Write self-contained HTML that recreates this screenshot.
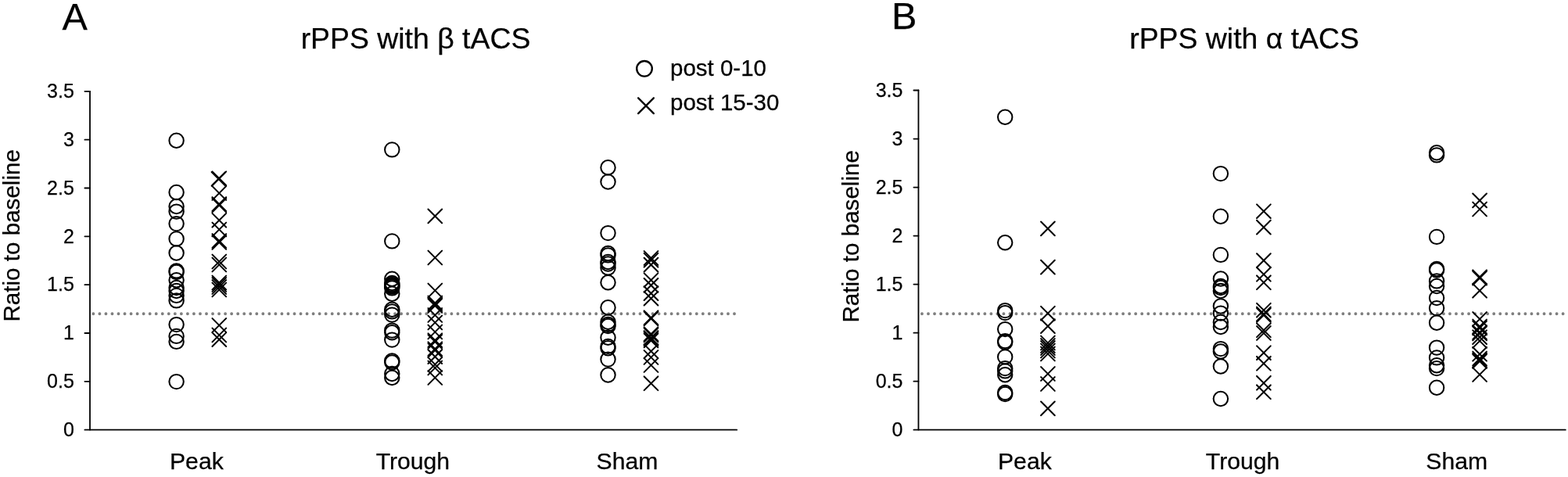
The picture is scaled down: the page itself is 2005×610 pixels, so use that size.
<!DOCTYPE html>
<html><head><meta charset="utf-8"><title>rPPS with tACS</title>
<style>
html,body{margin:0;padding:0;background:#fff;}
body{width:2005px;height:610px;overflow:hidden;}
svg{display:block;}
text{font-family:"Liberation Sans",Arial,sans-serif;fill:#000;stroke:#000;stroke-width:0.25px;}
.ax{fill:none;stroke:#000;stroke-width:1.8;stroke-linecap:round;stroke-linejoin:round;}
.dot{fill:none;stroke:#7f7f7f;stroke-width:3.9;stroke-linecap:round;stroke-dasharray:0 8.036;}
.tk{font-size:25px;text-anchor:end;}
.cat{font-size:30.2px;text-anchor:middle;}
.yl{font-size:29.6px;text-anchor:middle;}
.ti{font-size:37.4px;text-anchor:middle;}
.let{font-size:48.5px;}
.lg{font-size:29.5px;}
.mk{fill:none;stroke:#000;stroke-width:2.05;stroke-linecap:round;}
.lgm{stroke-width:2.35;}
</style></head>
<body>
<svg width="2005" height="610" viewBox="0 0 2005 610">
<rect width="2005" height="610" fill="#fff"/>
<g>
<path d="M115 116.8V549.7H942.2" class="ax"/>
<path d="M108.4 549.7H115" class="ax"/>
<text x="94.8" y="558" class="tk">0</text>
<path d="M108.4 487.86H115" class="ax"/>
<text x="94.8" y="496.16" class="tk">0.5</text>
<path d="M108.4 426.01H115" class="ax"/>
<text x="94.8" y="434.31" class="tk">1</text>
<path d="M108.4 364.17H115" class="ax"/>
<text x="94.8" y="372.47" class="tk">1.5</text>
<path d="M108.4 302.33H115" class="ax"/>
<text x="94.8" y="310.63" class="tk">2</text>
<path d="M108.4 240.49H115" class="ax"/>
<text x="94.8" y="248.79" class="tk">2.5</text>
<path d="M108.4 178.64H115" class="ax"/>
<text x="94.8" y="186.94" class="tk">3</text>
<path d="M108.4 116.8H115" class="ax"/>
<text x="94.8" y="125.1" class="tk">3.5</text>
<path d="M119.35 401.2H940" class="dot"/>
<text x="251.4" y="599.8" class="cat">Peak</text>
<text x="527.9" y="599.8" class="cat">Trough</text>
<text x="801.95" y="599.8" class="cat">Sham</text>
<text transform="translate(24.9 301.3) rotate(-90)" class="yl">Ratio to baseline</text>
<text x="531.5" y="62.3" class="ti">rPPS with β tACS</text>
<text x="79.6" y="38.3" class="let">A</text>
<circle class="mk" cx="225.6" cy="179.7" r="9.2"/>
<circle class="mk" cx="225.6" cy="246" r="9.2"/>
<circle class="mk" cx="225.6" cy="264" r="9.2"/>
<circle class="mk" cx="225.6" cy="270.6" r="9.2"/>
<circle class="mk" cx="225.6" cy="286.1" r="9.2"/>
<circle class="mk" cx="225.6" cy="305.4" r="9.2"/>
<circle class="mk" cx="225.6" cy="323.5" r="9.2"/>
<circle class="mk" cx="225.6" cy="346.4" r="9.2"/>
<circle class="mk" cx="225.6" cy="348" r="9.2"/>
<circle class="mk" cx="225.6" cy="358.2" r="9.2"/>
<circle class="mk" cx="225.6" cy="368" r="9.2"/>
<circle class="mk" cx="225.6" cy="372" r="9.2"/>
<circle class="mk" cx="225.6" cy="377.9" r="9.2"/>
<circle class="mk" cx="225.6" cy="384.4" r="9.2"/>
<circle class="mk" cx="225.6" cy="415.1" r="9.2"/>
<circle class="mk" cx="225.6" cy="429.9" r="9.2"/>
<circle class="mk" cx="225.6" cy="436.9" r="9.2"/>
<circle class="mk" cx="225.6" cy="488.1" r="9.2"/>
<path class="mk" d="M271.45 219.35L289.15 237.05M289.15 219.35L271.45 237.05"/>
<path class="mk" d="M270.65 220.05L288.35 237.75M288.35 220.05L270.65 237.75"/>
<path class="mk" d="M271.45 238.15L289.15 255.85M289.15 238.15L271.45 255.85"/>
<path class="mk" d="M271.45 252.15L289.15 269.85M289.15 252.15L271.45 269.85"/>
<path class="mk" d="M271.45 253.65L289.15 271.35M289.15 253.65L271.45 271.35"/>
<path class="mk" d="M271.45 272.85L289.15 290.55M289.15 272.85L271.45 290.55"/>
<path class="mk" d="M271.45 284.65L289.15 302.35M289.15 284.65L271.45 302.35"/>
<path class="mk" d="M271.45 299.15L289.15 316.85M289.15 299.15L271.45 316.85"/>
<path class="mk" d="M271.45 301.15L289.15 318.85M289.15 301.15L271.45 318.85"/>
<path class="mk" d="M271.45 325.65L289.15 343.35M289.15 325.65L271.45 343.35"/>
<path class="mk" d="M271.45 329.65L289.15 347.35M289.15 329.65L271.45 347.35"/>
<path class="mk" d="M271.45 352.65L289.15 370.35M289.15 352.65L271.45 370.35"/>
<path class="mk" d="M271.45 355.15L289.15 372.85M289.15 355.15L271.45 372.85"/>
<path class="mk" d="M271.45 358.15L289.15 375.85M289.15 358.15L271.45 375.85"/>
<path class="mk" d="M271.45 361.65L289.15 379.35M289.15 361.65L271.45 379.35"/>
<path class="mk" d="M271.45 407.15L289.15 424.85M289.15 407.15L271.45 424.85"/>
<path class="mk" d="M271.45 419.65L289.15 437.35M289.15 419.65L271.45 437.35"/>
<path class="mk" d="M271.45 425.35L289.15 443.05M289.15 425.35L271.45 443.05"/>
<circle class="mk" cx="501.3" cy="191.4" r="9.2"/>
<circle class="mk" cx="501.3" cy="308.4" r="9.2"/>
<circle class="mk" cx="501.3" cy="356.7" r="9.2"/>
<circle class="mk" cx="501.3" cy="362" r="9.2"/>
<circle class="mk" cx="501.3" cy="363.7" r="9.2"/>
<circle class="mk" cx="501.3" cy="365.3" r="9.2"/>
<circle class="mk" cx="501.3" cy="366.6" r="9.2"/>
<circle class="mk" cx="501.3" cy="368.4" r="9.2"/>
<circle class="mk" cx="501.3" cy="375.7" r="9.2"/>
<circle class="mk" cx="501.3" cy="395.7" r="9.2"/>
<circle class="mk" cx="501.3" cy="398.4" r="9.2"/>
<circle class="mk" cx="501.3" cy="402.6" r="9.2"/>
<circle class="mk" cx="501.3" cy="422.6" r="9.2"/>
<circle class="mk" cx="501.3" cy="425.3" r="9.2"/>
<circle class="mk" cx="501.3" cy="434.6" r="9.2"/>
<circle class="mk" cx="501.3" cy="461.5" r="9.2"/>
<circle class="mk" cx="501.3" cy="463.5" r="9.2"/>
<circle class="mk" cx="501.3" cy="478" r="9.2"/>
<circle class="mk" cx="501.3" cy="483" r="9.2"/>
<path class="mk" d="M547.45 267.55L565.15 285.25M565.15 267.55L547.45 285.25"/>
<path class="mk" d="M547.45 320.65L565.15 338.35M565.15 320.65L547.45 338.35"/>
<path class="mk" d="M547.45 362.65L565.15 380.35M565.15 362.65L547.45 380.35"/>
<path class="mk" d="M547.45 378.65L565.15 396.35M565.15 378.65L547.45 396.35"/>
<path class="mk" d="M547.45 380.65L565.15 398.35M565.15 380.65L547.45 398.35"/>
<path class="mk" d="M547.45 382.15L565.15 399.85M565.15 382.15L547.45 399.85"/>
<path class="mk" d="M547.45 394.15L565.15 411.85M565.15 394.15L547.45 411.85"/>
<path class="mk" d="M547.45 403.65L565.15 421.35M565.15 403.65L547.45 421.35"/>
<path class="mk" d="M547.45 415.65L565.15 433.35M565.15 415.65L547.45 433.35"/>
<path class="mk" d="M547.45 426.35L565.15 444.05M565.15 426.35L547.45 444.05"/>
<path class="mk" d="M547.45 428.15L565.15 445.85M565.15 428.15L547.45 445.85"/>
<path class="mk" d="M547.45 437.35L565.15 455.05M565.15 437.35L547.45 455.05"/>
<path class="mk" d="M547.45 439.15L565.15 456.85M565.15 439.15L547.45 456.85"/>
<path class="mk" d="M547.45 447.25L565.15 464.95M565.15 447.25L547.45 464.95"/>
<path class="mk" d="M547.45 457.15L565.15 474.85M565.15 457.15L547.45 474.85"/>
<path class="mk" d="M547.45 461.65L565.15 479.35M565.15 461.65L547.45 479.35"/>
<path class="mk" d="M547.45 474.15L565.15 491.85M565.15 474.15L547.45 491.85"/>
<circle class="mk" cx="777.5" cy="214.2" r="9.2"/>
<circle class="mk" cx="777.5" cy="232.5" r="9.2"/>
<circle class="mk" cx="777.5" cy="298.1" r="9.2"/>
<circle class="mk" cx="777.5" cy="324" r="9.2"/>
<circle class="mk" cx="777.5" cy="326.4" r="9.2"/>
<circle class="mk" cx="777.5" cy="335" r="9.2"/>
<circle class="mk" cx="777.5" cy="337.5" r="9.2"/>
<circle class="mk" cx="777.5" cy="342.4" r="9.2"/>
<circle class="mk" cx="777.5" cy="361.2" r="9.2"/>
<circle class="mk" cx="777.5" cy="393.2" r="9.2"/>
<circle class="mk" cx="777.5" cy="411.8" r="9.2"/>
<circle class="mk" cx="777.5" cy="415" r="9.2"/>
<circle class="mk" cx="777.5" cy="417" r="9.2"/>
<circle class="mk" cx="777.5" cy="431.7" r="9.2"/>
<circle class="mk" cx="777.5" cy="442.9" r="9.2"/>
<circle class="mk" cx="777.5" cy="445.2" r="9.2"/>
<circle class="mk" cx="777.5" cy="459.6" r="9.2"/>
<circle class="mk" cx="777.5" cy="479.5" r="9.2"/>
<path class="mk" d="M823.65 321.15L841.35 338.85M841.35 321.15L823.65 338.85"/>
<path class="mk" d="M823.65 323.85L841.35 341.55M841.35 323.85L823.65 341.55"/>
<path class="mk" d="M823.65 329.75L841.35 347.45M841.35 329.75L823.65 347.45"/>
<path class="mk" d="M823.65 349.35L841.35 367.05M841.35 349.35L823.65 367.05"/>
<path class="mk" d="M823.65 356.05L841.35 373.75M841.35 356.05L823.65 373.75"/>
<path class="mk" d="M823.65 366.25L841.35 383.95M841.35 366.25L823.65 383.95"/>
<path class="mk" d="M823.65 372.85L841.35 390.55M841.35 372.85L823.65 390.55"/>
<path class="mk" d="M823.65 397.45L841.35 415.15M841.35 397.45L823.65 415.15"/>
<path class="mk" d="M823.65 398.65L841.35 416.35M841.35 398.65L823.65 416.35"/>
<path class="mk" d="M823.65 418.35L841.35 436.05M841.35 418.35L823.65 436.05"/>
<path class="mk" d="M823.65 419.65L841.35 437.35M841.35 419.65L823.65 437.35"/>
<path class="mk" d="M823.65 423.15L841.35 440.85M841.35 423.15L823.65 440.85"/>
<path class="mk" d="M823.65 424.55L841.35 442.25M841.35 424.55L823.65 442.25"/>
<path class="mk" d="M823.65 426.65L841.35 444.35M841.35 426.65L823.65 444.35"/>
<path class="mk" d="M823.65 440.35L841.35 458.05M841.35 440.35L823.65 458.05"/>
<path class="mk" d="M823.65 448.15L841.35 465.85M841.35 448.15L823.65 465.85"/>
<path class="mk" d="M823.65 458.15L841.35 475.85M841.35 458.15L823.65 475.85"/>
<path class="mk" d="M823.65 481.45L841.35 499.15M841.35 481.45L823.65 499.15"/>
<path d="M1174.45 115.5V549.7H2001.8" class="ax"/>
<path d="M1168.4 549.7H1174.45" class="ax"/>
<text x="1154.4" y="558" class="tk">0</text>
<path d="M1168.4 487.67H1174.45" class="ax"/>
<text x="1154.4" y="495.97" class="tk">0.5</text>
<path d="M1168.4 425.64H1174.45" class="ax"/>
<text x="1154.4" y="433.94" class="tk">1</text>
<path d="M1168.4 363.61H1174.45" class="ax"/>
<text x="1154.4" y="371.91" class="tk">1.5</text>
<path d="M1168.4 301.59H1174.45" class="ax"/>
<text x="1154.4" y="309.89" class="tk">2</text>
<path d="M1168.4 239.56H1174.45" class="ax"/>
<text x="1154.4" y="247.86" class="tk">2.5</text>
<path d="M1168.4 177.53H1174.45" class="ax"/>
<text x="1154.4" y="185.83" class="tk">3</text>
<path d="M1168.4 115.5H1174.45" class="ax"/>
<text x="1154.4" y="123.8" class="tk">3.5</text>
<path d="M1178.95 401.2H1999.6" class="dot"/>
<text x="1310.4" y="600.4" class="cat">Peak</text>
<text x="1589.1" y="600.4" class="cat">Trough</text>
<text x="1862.8" y="600.4" class="cat">Sham</text>
<text transform="translate(1098.3 302.3) rotate(-90)" class="yl">Ratio to baseline</text>
<text x="1591.1" y="62.3" class="ti">rPPS with α tACS</text>
<text x="1139.9" y="37.3" class="let">B</text>
<circle class="mk" cx="1285.2" cy="149.7" r="9.2"/>
<circle class="mk" cx="1285.2" cy="310.3" r="9.2"/>
<circle class="mk" cx="1285.2" cy="397.1" r="9.2"/>
<circle class="mk" cx="1285.2" cy="400.1" r="9.2"/>
<circle class="mk" cx="1285.2" cy="421.1" r="9.2"/>
<circle class="mk" cx="1285.2" cy="436.1" r="9.2"/>
<circle class="mk" cx="1285.2" cy="437.7" r="9.2"/>
<circle class="mk" cx="1285.2" cy="456.4" r="9.2"/>
<circle class="mk" cx="1285.2" cy="471.1" r="9.2"/>
<circle class="mk" cx="1285.2" cy="474.4" r="9.2"/>
<circle class="mk" cx="1285.2" cy="479.3" r="9.2"/>
<circle class="mk" cx="1285.2" cy="502" r="9.2"/>
<circle class="mk" cx="1285.2" cy="504" r="9.2"/>
<path class="mk" d="M1331.05 283.55L1348.75 301.25M1348.75 283.55L1331.05 301.25"/>
<path class="mk" d="M1331.05 332.75L1348.75 350.45M1348.75 332.75L1331.05 350.45"/>
<path class="mk" d="M1331.05 391.85L1348.75 409.55M1348.75 391.85L1331.05 409.55"/>
<path class="mk" d="M1331.05 408.25L1348.75 425.95M1348.75 408.25L1331.05 425.95"/>
<path class="mk" d="M1331.05 429.65L1348.75 447.35M1348.75 429.65L1331.05 447.35"/>
<path class="mk" d="M1331.05 433.15L1348.75 450.85M1348.75 433.15L1331.05 450.85"/>
<path class="mk" d="M1331.05 436.15L1348.75 453.85M1348.75 436.15L1331.05 453.85"/>
<path class="mk" d="M1331.05 439.65L1348.75 457.35M1348.75 439.65L1331.05 457.35"/>
<path class="mk" d="M1331.05 443.65L1348.75 461.35M1348.75 443.65L1331.05 461.35"/>
<path class="mk" d="M1331.05 469.15L1348.75 486.85M1348.75 469.15L1331.05 486.85"/>
<path class="mk" d="M1331.05 482.15L1348.75 499.85M1348.75 482.15L1331.05 499.85"/>
<path class="mk" d="M1331.05 513.55L1348.75 531.25M1348.75 513.55L1331.05 531.25"/>
<circle class="mk" cx="1560.9" cy="222.1" r="9.2"/>
<circle class="mk" cx="1560.9" cy="276.7" r="9.2"/>
<circle class="mk" cx="1560.9" cy="325.9" r="9.2"/>
<circle class="mk" cx="1560.9" cy="356.5" r="9.2"/>
<circle class="mk" cx="1560.9" cy="366" r="9.2"/>
<circle class="mk" cx="1560.9" cy="368" r="9.2"/>
<circle class="mk" cx="1560.9" cy="372" r="9.2"/>
<circle class="mk" cx="1560.9" cy="391.5" r="9.2"/>
<circle class="mk" cx="1560.9" cy="400.6" r="9.2"/>
<circle class="mk" cx="1560.9" cy="412" r="9.2"/>
<circle class="mk" cx="1560.9" cy="418" r="9.2"/>
<circle class="mk" cx="1560.9" cy="446.1" r="9.2"/>
<circle class="mk" cx="1560.9" cy="449.5" r="9.2"/>
<circle class="mk" cx="1560.9" cy="468.5" r="9.2"/>
<circle class="mk" cx="1560.9" cy="510" r="9.2"/>
<path class="mk" d="M1607.05 261.35L1624.75 279.05M1624.75 261.35L1607.05 279.05"/>
<path class="mk" d="M1607.05 281.75L1624.75 299.45M1624.75 281.75L1607.05 299.45"/>
<path class="mk" d="M1607.05 324.25L1624.75 341.95M1624.75 324.25L1607.05 341.95"/>
<path class="mk" d="M1607.05 341.95L1624.75 359.65M1624.75 341.95L1607.05 359.65"/>
<path class="mk" d="M1607.05 352.45L1624.75 370.15M1624.75 352.45L1607.05 370.15"/>
<path class="mk" d="M1607.05 387.85L1624.75 405.55M1624.75 387.85L1607.05 405.55"/>
<path class="mk" d="M1607.05 392.65L1624.75 410.35M1624.75 392.65L1607.05 410.35"/>
<path class="mk" d="M1607.05 394.15L1624.75 411.85M1624.75 394.15L1607.05 411.85"/>
<path class="mk" d="M1607.05 413.45L1624.75 431.15M1624.75 413.45L1607.05 431.15"/>
<path class="mk" d="M1607.05 417.15L1624.75 434.85M1624.75 417.15L1607.05 434.85"/>
<path class="mk" d="M1607.05 442.35L1624.75 460.05M1624.75 442.35L1607.05 460.05"/>
<path class="mk" d="M1607.05 455.95L1624.75 473.65M1624.75 455.95L1607.05 473.65"/>
<path class="mk" d="M1607.05 480.95L1624.75 498.65M1624.75 480.95L1607.05 498.65"/>
<path class="mk" d="M1607.05 492.45L1624.75 510.15M1624.75 492.45L1607.05 510.15"/>
<circle class="mk" cx="1837.1" cy="195.2" r="9.2"/>
<circle class="mk" cx="1837.1" cy="198.4" r="9.2"/>
<circle class="mk" cx="1837.1" cy="302.9" r="9.2"/>
<circle class="mk" cx="1837.1" cy="344" r="9.2"/>
<circle class="mk" cx="1837.1" cy="345.5" r="9.2"/>
<circle class="mk" cx="1837.1" cy="359.4" r="9.2"/>
<circle class="mk" cx="1837.1" cy="366" r="9.2"/>
<circle class="mk" cx="1837.1" cy="381" r="9.2"/>
<circle class="mk" cx="1837.1" cy="394.1" r="9.2"/>
<circle class="mk" cx="1837.1" cy="412.7" r="9.2"/>
<circle class="mk" cx="1837.1" cy="444.6" r="9.2"/>
<circle class="mk" cx="1837.1" cy="457.4" r="9.2"/>
<circle class="mk" cx="1837.1" cy="467.2" r="9.2"/>
<circle class="mk" cx="1837.1" cy="471.1" r="9.2"/>
<circle class="mk" cx="1837.1" cy="495.7" r="9.2"/>
<path class="mk" d="M1883.25 247.55L1900.95 265.25M1900.95 247.55L1883.25 265.25"/>
<path class="mk" d="M1883.25 258.65L1900.95 276.35M1900.95 258.65L1883.25 276.35"/>
<path class="mk" d="M1883.25 345.45L1900.95 363.15M1900.95 345.45L1883.25 363.15"/>
<path class="mk" d="M1883.25 346.75L1900.95 364.45M1900.95 346.75L1883.25 364.45"/>
<path class="mk" d="M1883.25 362.85L1900.95 380.55M1900.95 362.85L1883.25 380.55"/>
<path class="mk" d="M1883.25 399.15L1900.95 416.85M1900.95 399.15L1883.25 416.85"/>
<path class="mk" d="M1883.25 408.65L1900.95 426.35M1900.95 408.65L1883.25 426.35"/>
<path class="mk" d="M1883.25 410.65L1900.95 428.35M1900.95 410.65L1883.25 428.35"/>
<path class="mk" d="M1883.25 416.15L1900.95 433.85M1900.95 416.15L1883.25 433.85"/>
<path class="mk" d="M1883.25 417.65L1900.95 435.35M1900.95 417.65L1883.25 435.35"/>
<path class="mk" d="M1883.25 422.35L1900.95 440.05M1900.95 422.35L1883.25 440.05"/>
<path class="mk" d="M1883.25 427.15L1900.95 444.85M1900.95 427.15L1883.25 444.85"/>
<path class="mk" d="M1883.25 443.95L1900.95 461.65M1900.95 443.95L1883.25 461.65"/>
<path class="mk" d="M1883.25 449.65L1900.95 467.35M1900.95 449.65L1883.25 467.35"/>
<path class="mk" d="M1883.25 451.75L1900.95 469.45M1900.95 451.75L1883.25 469.45"/>
<path class="mk" d="M1883.25 453.15L1900.95 470.85M1900.95 453.15L1883.25 470.85"/>
<path class="mk" d="M1883.25 470.15L1900.95 487.85M1900.95 470.15L1883.25 487.85"/>
<circle class="mk lgm" cx="824" cy="87.85" r="9.8"/><path class="mk lgm" d="M816.14 125.34L835.86 145.06M835.86 125.34L816.14 145.06"/><text x="857" y="96.7" class="lg">post 0-10</text><text x="857" y="141" class="lg">post 15-30</text>
</g>
</svg>
</body></html>
